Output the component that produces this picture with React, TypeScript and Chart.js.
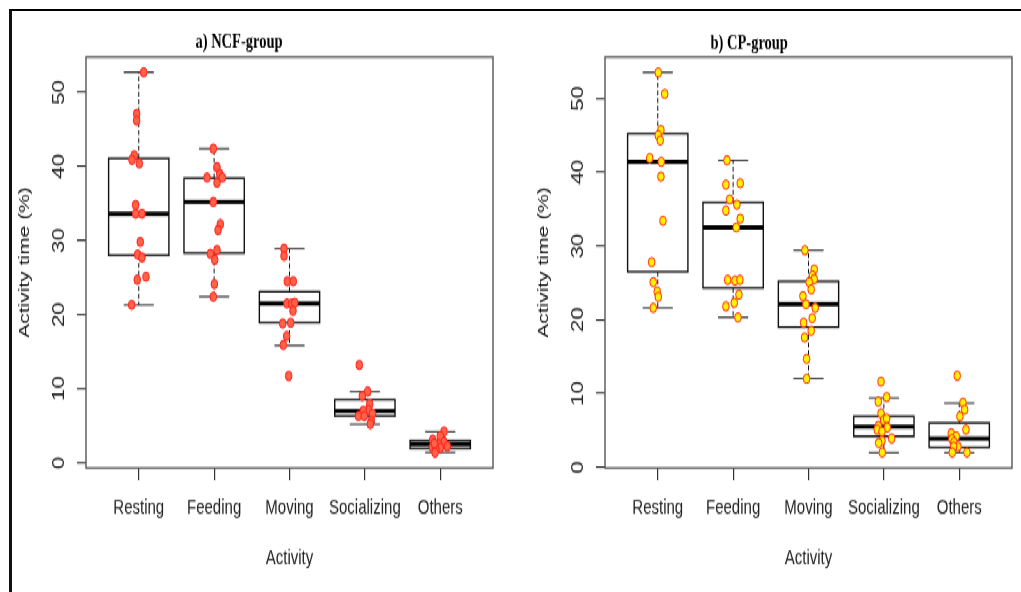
import React, { useEffect, useRef } from 'react';
import { Chart, registerables } from 'chart.js';

Chart.register(...registerables);

// ---------- data ----------
const categories = ['Resting', 'Feeding', 'Moving', 'Socializing', 'Others'];
const yTickValues = [0, 10, 20, 30, 40, 50];
const xTickValues = [1, 2, 3, 4, 5];

// a) NCF-group : observed activity time (%) per activity
const ncfResting = [52.7, 47.1, 46.2, 41.5, 40.9, 40.4, 34.8, 33.6, 33.6, 29.8, 28.1, 27.7, 24.7, 25.1, 21.3];
const ncfFeeding = [42.4, 39.9, 39.0, 38.5, 38.5, 37.8, 35.2, 32.2, 31.4, 28.7, 28.2, 27.4, 24.1, 22.4];
const ncfMoving = [28.9, 27.9, 24.5, 24.5, 21.5, 21.5, 21.6, 20.5, 18.8, 18.9, 17.1, 15.9, 11.7];
const ncfSocializing = [13.2, 9.6, 9.0, 7.9, 7.1, 7.0, 6.6, 6.3, 6.3, 5.6, 5.2];
const ncfOthers = [4.2, 3.6, 3.1, 2.8, 2.5, 2.5, 2.2, 2.1, 2.0, 1.8, 1.35, 2.6];

// horizontal jitter of each NCF point (category units)
const ncfRestingJitter = [0.065, -0.028, -0.028, -0.06, -0.09, 0.007, -0.041, -0.041, 0.042, 0.02, -0.015, 0.042, -0.02, 0.096, -0.094];
const ncfFeedingJitter = [-0.011, 0.038, 0.074, 0.109, -0.094, 0.038, -0.011, 0.082, 0.052, 0.038, -0.05, 0.008, 0.003, -0.011];
const ncfMovingJitter = [-0.073, -0.073, -0.029, 0.05, -0.033, 0.029, 0.069, 0.046, -0.09, 0.016, -0.037, -0.082, -0.011];
const ncfSocializingJitter = [-0.074, 0.037, -0.034, 0.064, 0.048, -0.021, 0.101, -0.085, -0.008, 0.085, 0.072];
const ncfOthersJitter = [0.05, 0, -0.1, 0.05, -0.078, -0.02, 0.094, -0.105, 0, -0.056, -0.069, -0.078];

// NCF box statistics (whisker low, Q1, median, Q3, whisker high)
const ncfMin = [21.3, 22.4, 15.8, 5.2, 1.4];
const ncfQ1 = [28.0, 28.3, 18.9, 6.3, 1.9];
const ncfMedian = [33.6, 35.2, 21.5, 7.0, 2.5];
const ncfQ3 = [41.1, 38.4, 23.1, 8.5, 3.0];
const ncfMax = [52.7, 42.4, 28.9, 9.6, 4.2];

// b) CP-group : observed activity time (%) per activity
const cpResting = [53.5, 50.6, 45.7, 45.0, 44.3, 41.9, 41.4, 39.4, 33.4, 27.8, 25.1, 23.8, 23.1, 21.6];
const cpFeeding = [41.6, 38.3, 38.5, 36.3, 35.6, 34.8, 33.7, 32.5, 25.4, 25.3, 25.4, 23.4, 22.3, 21.8, 20.3];
const cpMoving = [29.4, 26.8, 26.0, 25.5, 25.1, 24.1, 23.2, 22.1, 21.6, 20.2, 19.6, 18.5, 17.6, 14.7, 12.0];
const cpSocializing = [11.6, 9.5, 8.9, 7.3, 6.4, 6.6, 5.6, 5.4, 5.1, 4.85, 3.9, 3.6, 3.3, 2.0];
const cpOthers = [12.4, 8.75, 7.8, 6.9, 5.1, 4.6, 4.2, 3.8, 3.4, 2.8, 2.8, 2.0, 2.0];

const cpRestingJitter = [0.007, 0.092, 0.042, 0.007, 0.033, -0.107, 0.046, 0.042, 0.069, -0.081, -0.06, -0.007, 0.007, -0.06];
const cpFeedingJitter = [-0.082, -0.096, 0.094, -0.046, 0.05, -0.096, 0.094, 0.041, -0.073, 0.024, 0.09, 0.077, 0.015, -0.096, 0.064];
const cpMovingJitter = [-0.048, 0.076, 0.054, 0.076, 0.009, 0.036, -0.074, -0.034, 0.089, 0.049, -0.065, 0.036, -0.052, -0.025, -0.025];
const cpSocializingJitter = [-0.038, 0.037, -0.074, -0.038, -0.003, 0.037, -0.074, 0.045, -0.088, -0.025, 0.103, -0.025, -0.069, -0.021];
const cpOthersJitter = [-0.027, 0.049, 0.072, 0.009, 0.089, -0.106, -0.04, -0.097, -0.07, -0.017, -0.074, -0.093, 0.102];

const cpMin = [21.6, 20.3, 12.0, 2.0, 2.0];
const cpQ1 = [26.5, 24.3, 19.0, 4.2, 2.7];
const cpMedian = [41.4, 32.5, 22.1, 5.5, 3.9];
const cpQ3 = [45.2, 35.9, 25.2, 6.9, 6.0];
const cpMax = [53.5, 41.6, 29.4, 9.4, 8.7];

// ---------- layout constants (unstretched canvas coordinates) ----------
const STRETCH = 1.4;
const CANVAS_H = 423;
const SANS = "'Liberation Sans', Arial, Helvetica, sans-serif";
const SERIF = "'Liberation Serif', 'Times New Roman', Times, serif";

type Stats = { min: number[]; q1: number[]; med: number[]; q3: number[]; max: number[] };

function boxPlugin(stats: Stats) {
  return {
    id: 'rBoxes',
    beforeDatasetsDraw(chart: any) {
      const { ctx, chartArea, scales } = chart;
      const x = scales.x;
      const y = scales.y;
      const line = (x1: number, y1: number, x2: number, y2: number) => {
        ctx.beginPath();
        ctx.moveTo(x1, y1);
        ctx.lineTo(x2, y2);
        ctx.stroke();
      };
      ctx.save();
      ctx.lineCap = 'butt';
      for (let i = 0; i < categories.length; i++) {
        const cx = x.getPixelForValue(xTickValues[i]);
        const hw = x.getPixelForValue(xTickValues[i] + 0.4) - cx;
        const sw = hw / 2;
        const pMin = y.getPixelForValue(stats.min[i]);
        const pQ1 = y.getPixelForValue(stats.q1[i]);
        const pMed = y.getPixelForValue(stats.med[i]);
        const pQ3 = y.getPixelForValue(stats.q3[i]);
        const pMax = y.getPixelForValue(stats.max[i]);
        // whiskers
        ctx.strokeStyle = '#111';
        ctx.lineWidth = 1;
        ctx.setLineDash([3.5, 2]);
        line(cx, pQ3, cx, pMax);
        line(cx, pQ1, cx, pMin);
        ctx.setLineDash([]);
        // staples
        ctx.strokeStyle = '#1a1a1a';
        line(cx - sw, pMax, cx + sw, pMax);
        line(cx - sw, pMin, cx + sw, pMin);
        // box
        ctx.fillStyle = '#ffffff';
        ctx.fillRect(cx - hw, pQ3, 2 * hw, pQ1 - pQ3);
        ctx.strokeStyle = '#111';
        ctx.lineWidth = 1.4;
        ctx.strokeRect(cx - hw, pQ3, 2 * hw, pQ1 - pQ3);
        // median
        ctx.strokeStyle = '#000';
        ctx.lineWidth = 3;
        line(cx - hw, pMed, cx + hw, pMed);
      }
      // plot frame
      ctx.strokeStyle = '#555';
      ctx.lineWidth = 1.4;
      ctx.strokeRect(chartArea.left, chartArea.top, chartArea.right - chartArea.left, chartArea.bottom - chartArea.top);
      ctx.restore();
    },
  };
}

function titlePlugin(text: string, cx: number, baseline: number) {
  return {
    id: 'panelTitle',
    afterDraw(chart: any) {
      const { ctx } = chart;
      ctx.save();
      ctx.font = `bold 14.5px ${SERIF}`;
      ctx.fillStyle = '#000';
      ctx.textAlign = 'center';
      ctx.textBaseline = 'alphabetic';
      ctx.fillText(text, cx, baseline);
      ctx.restore();
    },
  };
}

type PanelCfg = {
  values: number[][];
  jitter: number[][];
  stats: Stats;
  yMin: number;
  yMax: number;
  fill: string;
  border: string;
  yAxisWidth: number;
  rightPad: number;
  yTitlePad: number;
  title: string;
  titleX: number;
  titleBaseline: number;
};

function buildChart(canvas: HTMLCanvasElement, cfg: PanelCfg) {
  const points = cfg.values.flatMap((vals, i) =>
    vals.map((v, j) => ({ x: xTickValues[i] + cfg.jitter[i][j], y: v }))
  );
  const chartTop = 57 / STRETCH;
  const chartBottom = 468 / STRETCH;
  return new Chart(canvas, {
    type: 'scatter',
    data: {
      datasets: [
        {
          data: points,
          pointRadius: 3.3,
          pointHoverRadius: 3.3,
          pointBackgroundColor: cfg.fill,
          pointBorderColor: cfg.border,
          pointBorderWidth: 1,
          showLine: false,
        },
      ],
    },
    options: {
      animation: false,
      responsive: false,
      events: [],
      layout: { padding: { left: 0, right: cfg.rightPad, top: chartTop, bottom: 0 } },
      plugins: { legend: { display: false }, tooltip: { enabled: false }, title: { display: false } },
      scales: {
        x: {
          type: 'linear',
          min: 0.3,
          max: 5.7,
          afterBuildTicks: (ax: any) => {
            ax.ticks = xTickValues.map((v) => ({ value: v }));
          },
          afterFit: (ax: any) => {
            ax.height = CANVAS_H - chartBottom;
          },
          border: { display: false },
          grid: { drawOnChartArea: false, drawTicks: true, tickLength: 8.6, color: '#333', lineWidth: 1.2 },
          ticks: {
            autoSkip: false,
            maxRotation: 0,
            minRotation: 0,
            padding: 11.3,
            color: '#222',
            font: { family: SANS, size: 15 },
            callback: (v: any) => categories[Math.round(Number(v)) - 1] ?? '',
          },
          title: {
            display: true,
            text: 'Activity',
            color: '#222',
            font: { family: SANS, size: 15 },
            padding: { top: 0, bottom: 14.8 },
          },
        },
        y: {
          type: 'linear',
          min: cfg.yMin,
          max: cfg.yMax,
          afterBuildTicks: (ax: any) => {
            ax.ticks = yTickValues.map((v) => ({ value: v }));
          },
          afterFit: (ax: any) => {
            ax.width = cfg.yAxisWidth;
          },
          border: { display: false },
          grid: { drawOnChartArea: false, drawTicks: true, tickLength: 9, color: '#333', lineWidth: 1.2 },
          ticks: {
            minRotation: 90,
            maxRotation: 90,
            crossAlign: 'center',
            padding: 8.7,
            color: '#222',
            font: { family: SANS, size: 16 },
          },
          title: {
            display: true,
            text: 'Activity time (%)',
            color: '#111',
            font: { family: SANS, size: 15 },
            padding: { top: cfg.yTitlePad, bottom: 0 },
          },
        },
      },
    } as any,
    plugins: [boxPlugin(cfg.stats), titlePlugin(cfg.title, cfg.titleX, cfg.titleBaseline)],
  });
}

export default function App() {
  const leftRef = useRef<HTMLCanvasElement>(null);
  const rightRef = useRef<HTMLCanvasElement>(null);

  useEffect(() => {
    if (!leftRef.current || !rightRef.current) return;
    const a = buildChart(leftRef.current, {
      values: [ncfResting, ncfFeeding, ncfMoving, ncfSocializing, ncfOthers],
      jitter: [ncfRestingJitter, ncfFeedingJitter, ncfMovingJitter, ncfSocializingJitter, ncfOthersJitter],
      stats: { min: ncfMin, q1: ncfQ1, med: ncfMedian, q3: ncfQ3, max: ncfMax },
      yMin: -0.72,
      yMax: 54.77,
      fill: '#FF6347',
      border: '#FF1E1E',
      yAxisWidth: 86,
      rightPad: 17,
      yTitlePad: 16,
      title: 'a) NCF-group',
      titleX: 239,
      titleBaseline: 47.7 / STRETCH,
    });
    const b = buildChart(rightRef.current, {
      values: [cpResting, cpFeeding, cpMoving, cpSocializing, cpOthers],
      jitter: [cpRestingJitter, cpFeedingJitter, cpMovingJitter, cpSocializingJitter, cpOthersJitter],
      stats: { min: cpMin, q1: cpQ1, med: cpMedian, q3: cpQ3, max: cpMax },
      yMin: -0.1,
      yMax: 55.6,
      fill: '#FFF200',
      border: '#FF2A1A',
      yAxisWidth: 95,
      rightPad: 9,
      yTitlePad: 24.7,
      title: 'b) CP-group',
      titleX: 239.2,
      titleBaseline: 49.5 / STRETCH,
    });
    return () => {
      a.destroy();
      b.destroy();
    };
  }, []);

  return (
    <div style={{ position: 'absolute', left: 0, top: 0, width: 1021, height: 592, background: '#fff', overflow: 'hidden' }}>
      <div
        style={{
          position: 'absolute',
          left: 0,
          top: 0,
          width: 1021,
          height: CANVAS_H,
          transform: `scaleY(${STRETCH})`,
          transformOrigin: '0 0',
        }}
      >
        <canvas ref={leftRef} width={510} height={CANVAS_H} style={{ position: 'absolute', left: 0, top: 0 }} />
        <canvas ref={rightRef} width={511} height={CANVAS_H} style={{ position: 'absolute', left: 510, top: 0 }} />
      </div>
      <div
        style={{
          position: 'absolute',
          left: 9,
          top: 9,
          width: 1030,
          height: 600,
          borderTop: '2.5px solid #000',
          borderLeft: '3px solid #111',
          pointerEvents: 'none',
        }}
      />
    </div>
  );
}
